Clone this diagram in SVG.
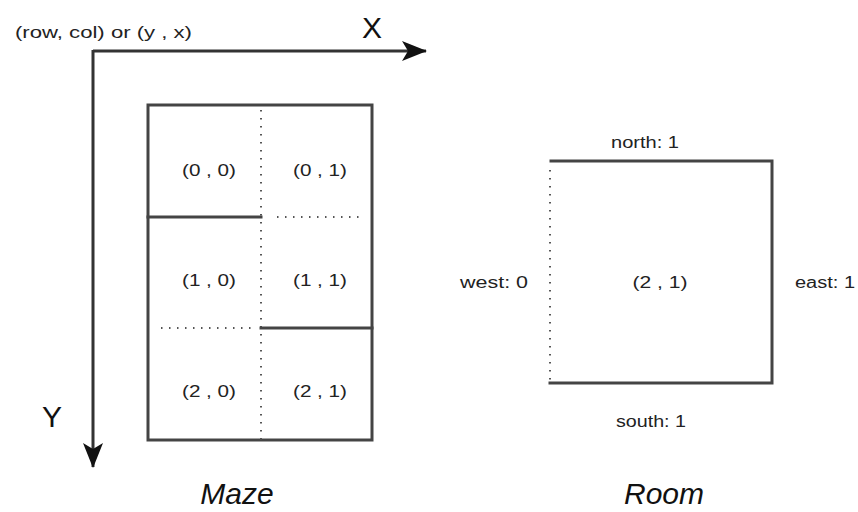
<svg xmlns="http://www.w3.org/2000/svg" width="858" height="512" viewBox="0 0 858 512">
<defs>
<marker id="ah" viewBox="0 0 25 20" refX="24" refY="10" markerWidth="25" markerHeight="20" markerUnits="userSpaceOnUse" orient="auto"><path d="M0,0 L25,10 L0,20 L6,10 Z" fill="#111"/></marker>
<style>
.wall{stroke:#444;stroke-width:3;fill:none;stroke-linecap:square}
.open{stroke:#555;stroke-width:2;fill:none;stroke-dasharray:1.5 6.5}
.axis{stroke:#333;stroke-width:3;fill:none}
.lbl{font-family:"Liberation Sans",Arial,sans-serif;font-size:16px;fill:#222;text-anchor:middle}
.big{font-family:"Liberation Sans",Arial,sans-serif;font-size:30px;fill:#111;text-anchor:middle}
.cap{font-family:"Liberation Sans",Arial,sans-serif;font-size:30px;font-style:italic;fill:#111;text-anchor:middle}
</style>
</defs>
<rect width="858" height="512" fill="#fff"/>
<g id="connectors">
<path class="axis" d="M93,51 L426,51" marker-end="url(#ah)"/>
<path class="axis" d="M93,50 L93,467" marker-end="url(#ah)"/>
</g>
<g id="axes-labels">
<text x="15" y="38" font-family="Liberation Sans, Arial, sans-serif" font-size="16" fill="#222" textLength="177" lengthAdjust="spacingAndGlyphs">(row, col) or (y , x)</text>
<text class="big" x="372" y="38">X</text>
<text class="big" x="52" y="427">Y</text>
</g>
<g id="maze">
<rect class="wall" x="148" y="105" width="224" height="335"/>
<line class="open" x1="261" y1="110" x2="261" y2="440"/>
<line class="wall" x1="148" y1="217" x2="261" y2="217"/>
<line class="open" x1="277" y1="217" x2="365" y2="217"/>
<line class="open" x1="161" y1="328" x2="255" y2="328"/>
<line class="wall" x1="261" y1="328" x2="372" y2="328"/>
<text class="lbl" x="209" y="176" textLength="54" lengthAdjust="spacingAndGlyphs">(0 , 0)</text>
<text class="lbl" x="320" y="176" textLength="54" lengthAdjust="spacingAndGlyphs">(0 , 1)</text>
<text class="lbl" x="209" y="286" textLength="54" lengthAdjust="spacingAndGlyphs">(1 , 0)</text>
<text class="lbl" x="320" y="286" textLength="54" lengthAdjust="spacingAndGlyphs">(1 , 1)</text>
<text class="lbl" x="209" y="397" textLength="54" lengthAdjust="spacingAndGlyphs">(2 , 0)</text>
<text class="lbl" x="320" y="397" textLength="54" lengthAdjust="spacingAndGlyphs">(2 , 1)</text>
<text class="cap" x="237" y="504">Maze</text>
</g>
<g id="room">
<path class="wall" d="M551,161 L772,161 L772,383 L550,383"/>
<line class="open" x1="550" y1="170" x2="550" y2="380"/>
<text class="lbl" x="645" y="148" textLength="68" lengthAdjust="spacingAndGlyphs">north: 1</text>
<text class="lbl" x="651" y="427" textLength="70" lengthAdjust="spacingAndGlyphs">south: 1</text>
<text class="lbl" x="494" y="288" textLength="68" lengthAdjust="spacingAndGlyphs">west: 0</text>
<text class="lbl" x="825" y="288" textLength="60" lengthAdjust="spacingAndGlyphs">east: 1</text>
<text class="lbl" x="660" y="288" textLength="55" lengthAdjust="spacingAndGlyphs">(2 , 1)</text>
<text class="cap" x="664" y="504">Room</text>
</g>
</svg>
